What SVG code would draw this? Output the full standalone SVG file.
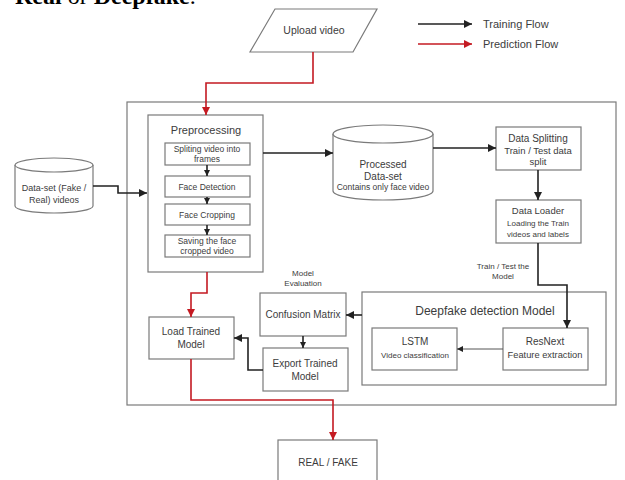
<svg xmlns="http://www.w3.org/2000/svg" width="625" height="480" viewBox="0 0 625 480">
<defs>
<style>
.box{fill:#fff;stroke:#7a7a7a;stroke-width:1.2}
.t{font-family:"Liberation Sans",Arial,sans-serif;fill:#3c3c3c;text-anchor:middle}
.k{fill:none;stroke:#222;stroke-width:1.6}
.kt{fill:none;stroke:#555;stroke-width:1}
.r{fill:none;stroke:#c41a22;stroke-width:1.6}
</style>
<marker id="ab" viewBox="0 0 10 10" refX="10" refY="5" markerWidth="8" markerHeight="8" markerUnits="userSpaceOnUse" orient="auto"><path d="M0,0 L10,5 L0,10 z" fill="#222"/></marker>
<marker id="as" viewBox="0 0 10 10" refX="10" refY="5" markerWidth="6" markerHeight="6" markerUnits="userSpaceOnUse" orient="auto"><path d="M0,0 L10,5 L0,10 z" fill="#222"/></marker>
<marker id="ar" viewBox="0 0 10 10" refX="10" refY="5" markerWidth="8" markerHeight="8" markerUnits="userSpaceOnUse" orient="auto"><path d="M0,0 L10,5 L0,10 z" fill="#c41a22"/></marker>
</defs>
<rect width="625" height="480" fill="#fff"/>
<text x="15" y="4" font-family="'Liberation Serif','Times New Roman',serif" font-size="24" fill="#000"><tspan font-weight="bold">Real</tspan> or <tspan font-weight="bold">Deepfake</tspan>.</text>

<g id="legend">
<line x1="418" y1="24" x2="472" y2="24" class="k" marker-end="url(#ab)"/>
<text x="483" y="28" class="t" font-size="11" style="text-anchor:start">Training Flow</text>
<line x1="418" y1="44" x2="472" y2="44" class="r" marker-end="url(#ar)"/>
<text x="483" y="48" class="t" font-size="11" style="text-anchor:start">Prediction Flow</text>
</g>

<rect id="frame" x="127" y="102" width="489" height="303" fill="none" stroke="#7a7a7a" stroke-width="1.2"/>

<g id="upload">
<polygon points="275,9 377,9 353,52 250,52" class="box"/>
<text x="314" y="34" class="t" font-size="10.5">Upload video</text>
</g>

<g id="dataset">
<path d="M15,165 L15,206 A39,7 0 0 0 93,206 L93,165" class="box"/>
<ellipse cx="54" cy="165" rx="39" ry="7" class="box"/>
<text x="54" y="191" class="t" font-size="9">Data-set (Fake /</text>
<text x="54" y="203" class="t" font-size="9">Real) videos</text>
</g>

<g id="preprocessing">
<rect x="148" y="115" width="115" height="157" class="box"/>
<text x="206" y="134" class="t" font-size="11">Preprocessing</text>
</g>
<g id="split-frames">
<rect x="165" y="143" width="85" height="22" class="box"/>
<text x="207" y="152" class="t" font-size="8.5">Spliting video into</text>
<text x="207" y="162" class="t" font-size="8.5">frames</text>
</g>
<g id="face-detection">
<rect x="165" y="176" width="85" height="21" class="box"/>
<text x="207" y="190" class="t" font-size="8.5">Face Detection</text>
</g>
<g id="face-cropping">
<rect x="165" y="204" width="85" height="21" class="box"/>
<text x="207" y="218" class="t" font-size="8.5">Face Cropping</text>
</g>
<g id="saving">
<rect x="165" y="235" width="85" height="22" class="box"/>
<text x="207" y="244" class="t" font-size="8.5">Saving the face</text>
<text x="207" y="254" class="t" font-size="8.5">cropped video</text>
</g>

<g id="processed">
<path d="M333,134 L333,191 A50,9 0 0 0 433,191 L433,134" class="box"/>
<ellipse cx="383" cy="134" rx="50" ry="9" class="box"/>
<text x="383" y="168" class="t" font-size="10">Processed</text>
<text x="383" y="180" class="t" font-size="10">Data-set</text>
<text x="383" y="190" class="t" font-size="8.5">Contains only face video</text>
</g>

<g id="data-splitting">
<rect x="496" y="127" width="85" height="43" class="box"/>
<text x="538" y="142" class="t" font-size="10">Data Splitting</text>
<text x="538" y="154" class="t" font-size="9.5">Train / Test data</text>
<text x="538" y="165" class="t" font-size="9.5">split</text>
</g>

<g id="data-loader">
<rect x="496" y="200" width="85" height="43" class="box"/>
<text x="538" y="214" class="t" font-size="9.5">Data Loader</text>
<text x="538" y="226" class="t" font-size="8">Loading the Train</text>
<text x="538" y="237" class="t" font-size="8">videos and labels</text>
</g>

<g id="deepfake-model">
<rect x="362" y="292" width="244" height="93" class="box"/>
<text x="485" y="315" class="t" font-size="12">Deepfake detection Model</text>
</g>
<g id="lstm">
<rect x="372" y="328" width="85" height="42" class="box"/>
<text x="415" y="345" class="t" font-size="10">LSTM</text>
<text x="415" y="358" class="t" font-size="8">Video classification</text>
</g>
<g id="resnext">
<rect x="503" y="328" width="85" height="42" class="box"/>
<text x="545" y="345" class="t" font-size="10">ResNext</text>
<text x="545" y="358" class="t" font-size="9.3">Feature extraction</text>
</g>

<g id="confusion">
<rect x="260" y="293" width="86" height="43" class="box"/>
<text x="303" y="318" class="t" font-size="10">Confusion Matrix</text>
</g>
<g id="export">
<rect x="263" y="348" width="85" height="43" class="box"/>
<text x="305" y="367" class="t" font-size="10">Export Trained</text>
<text x="305" y="380" class="t" font-size="10">Model</text>
</g>
<g id="load">
<rect x="149" y="317" width="85" height="42" class="box"/>
<text x="191" y="335" class="t" font-size="10">Load Trained</text>
<text x="191" y="348" class="t" font-size="10">Model</text>
</g>

<g id="realfake">
<rect x="278" y="440" width="99" height="45" class="box"/>
<text x="328" y="466" class="t" font-size="10">REAL / FAKE</text>
</g>

<g id="labels">
<text x="503" y="269" class="t" font-size="8">Train / Test the</text>
<text x="503" y="279" class="t" font-size="8">Model</text>
<text x="303" y="276" class="t" font-size="8">Model</text>
<text x="303" y="286" class="t" font-size="8">Evaluation</text>
</g>

<g id="connectors">
<polyline points="313,52 313,83 206,83 206,115" class="r" marker-end="url(#ar)"/>
<polyline points="93,186 118,186 118,193 147,193" class="k" marker-end="url(#ab)"/>
<line x1="207" y1="165" x2="207" y2="176" class="k" stroke-width="1" marker-end="url(#as)"/>
<line x1="207" y1="197" x2="207" y2="204" class="k" stroke-width="1" marker-end="url(#as)"/>
<line x1="207" y1="225" x2="207" y2="235" class="k" stroke-width="1" marker-end="url(#as)"/>
<line x1="263" y1="153" x2="333" y2="153" class="k" marker-end="url(#ab)"/>
<line x1="433" y1="148" x2="496" y2="148" class="k" marker-end="url(#ab)"/>
<line x1="538" y1="170" x2="538" y2="200" class="k" marker-end="url(#ab)"/>
<polyline points="538,243 538,285 567,285 567,328" class="k" marker-end="url(#ab)"/>
<line x1="503" y1="349" x2="457" y2="349" class="kt" marker-end="url(#as)"/>
<line x1="362" y1="315" x2="346" y2="315" class="k" marker-end="url(#ab)"/>
<line x1="303" y1="336" x2="303" y2="348" class="k" marker-end="url(#as)"/>
<polyline points="263,370 248,370 248,338 234,338" class="k" marker-end="url(#ab)"/>
<polyline points="207,272 207,293 191,293 191,317" class="r" marker-end="url(#ar)"/>
<polyline points="191,359 191,400 333,400 333,440" class="r" marker-end="url(#ar)"/>
</g>
</svg>
